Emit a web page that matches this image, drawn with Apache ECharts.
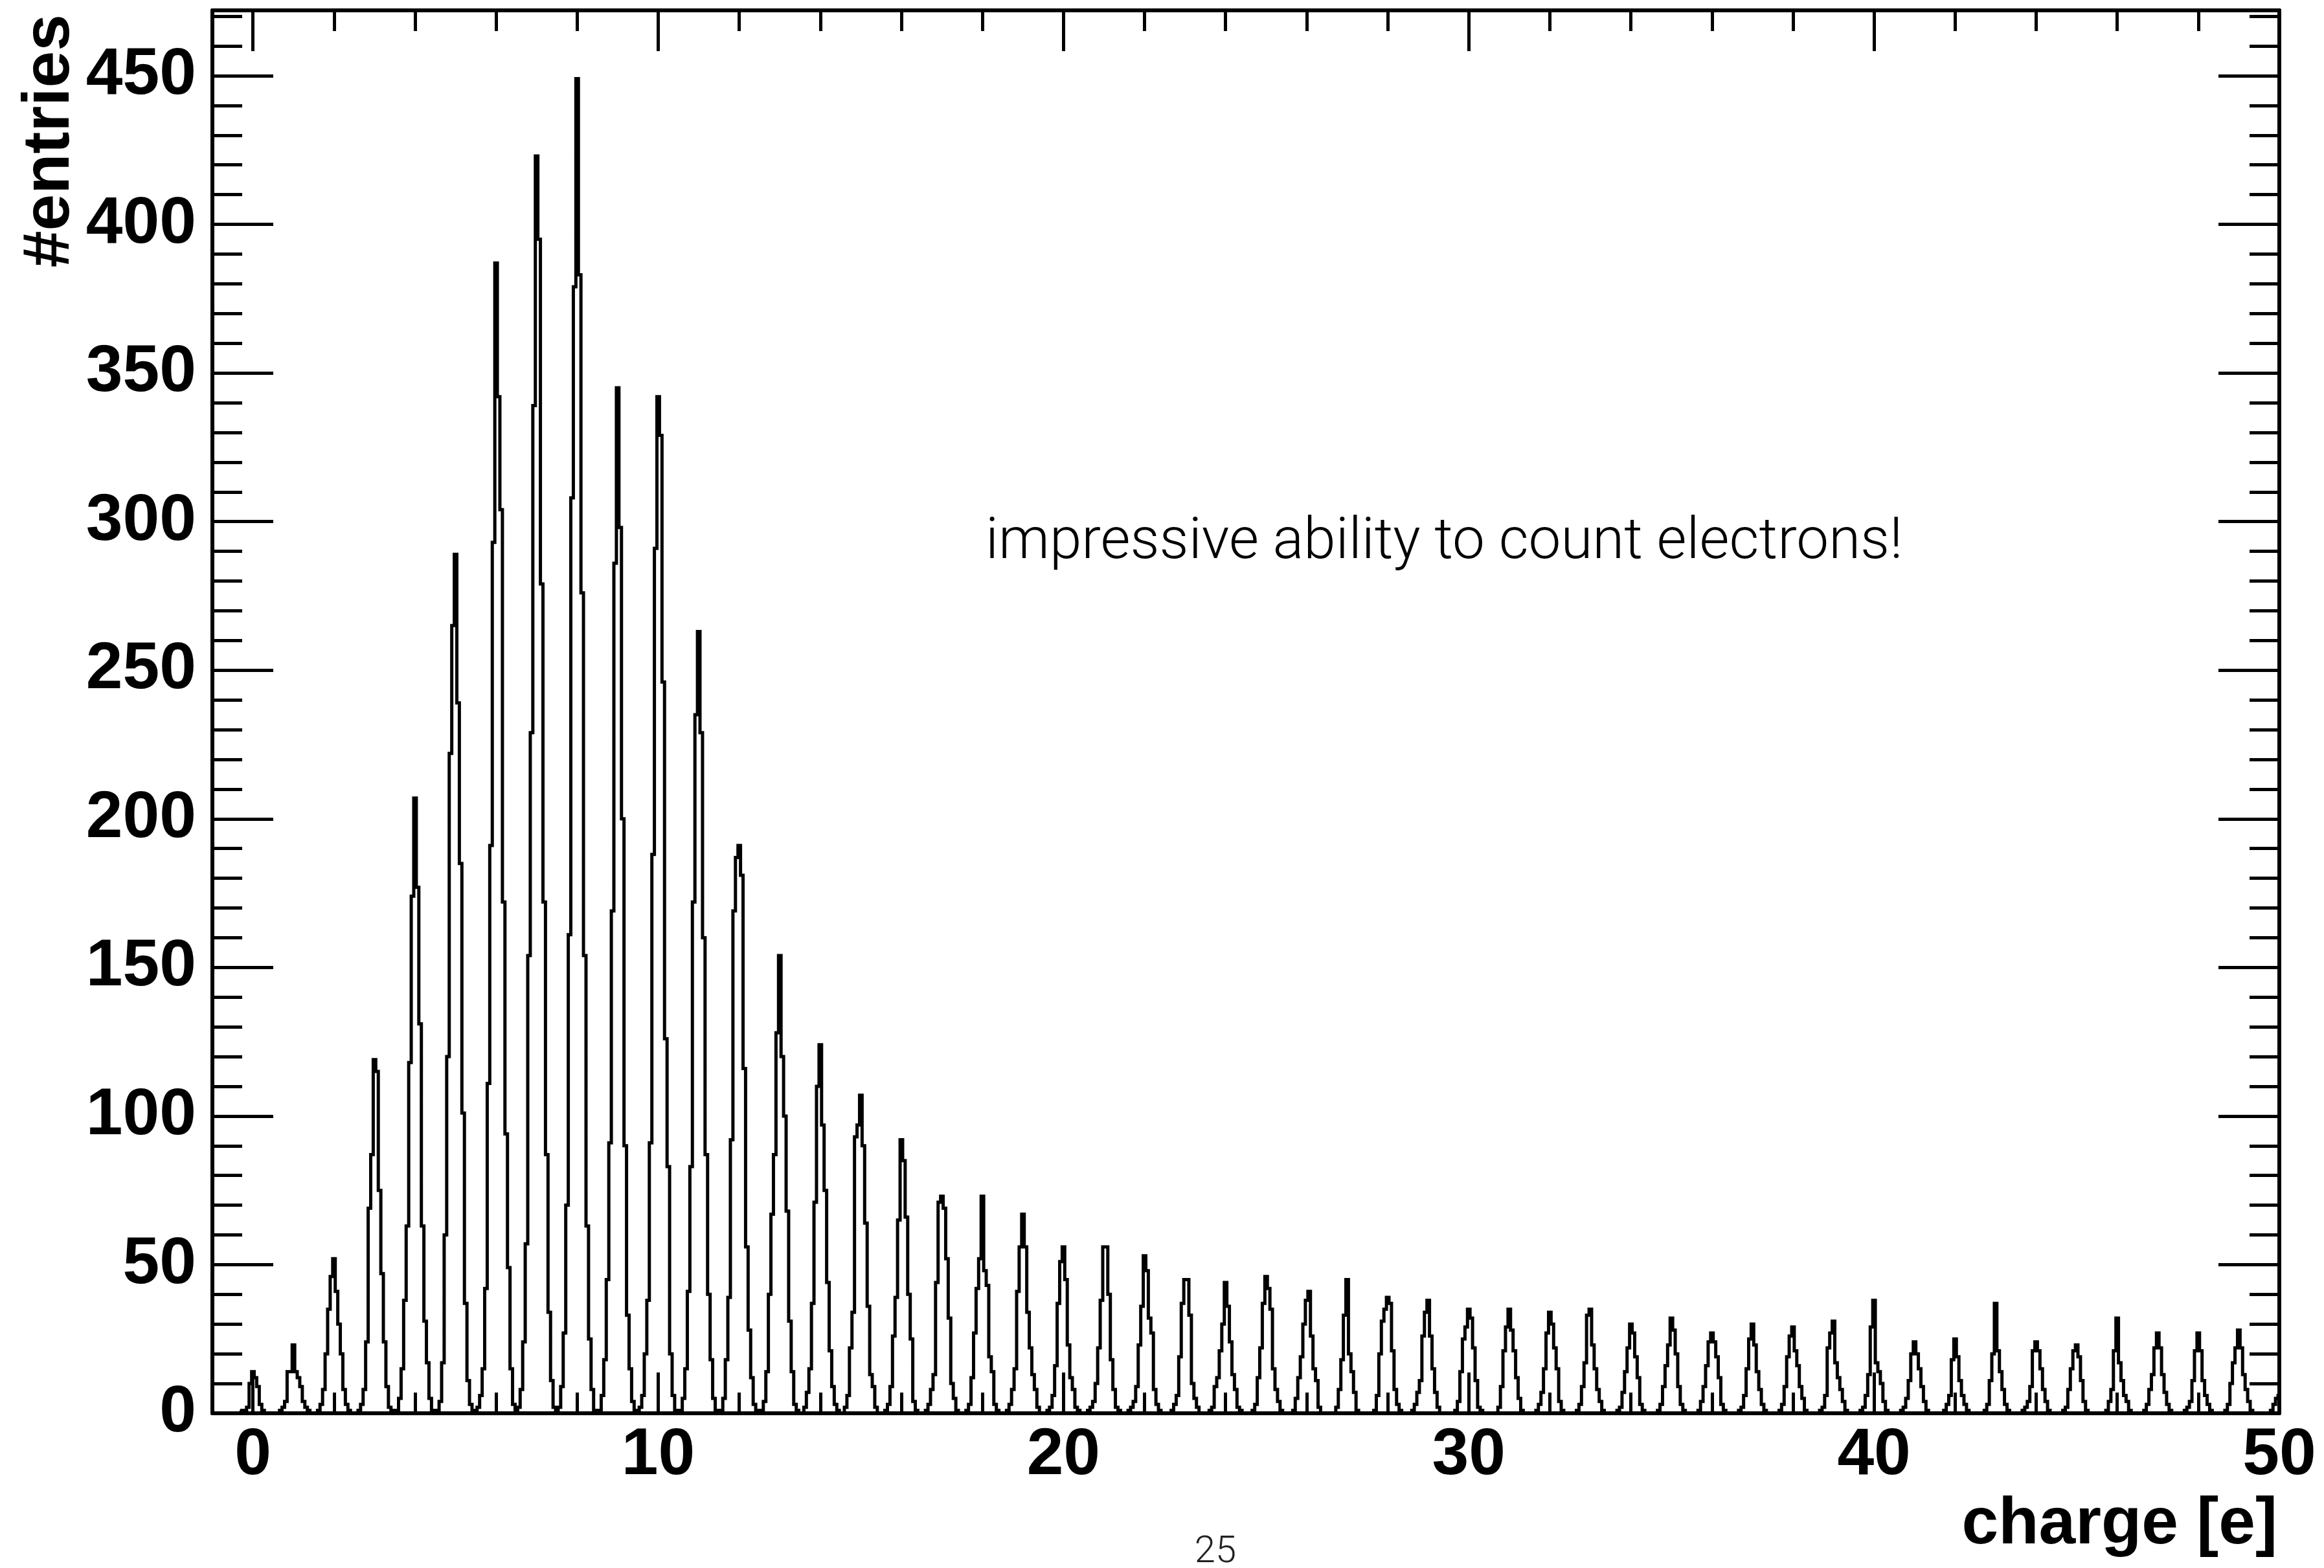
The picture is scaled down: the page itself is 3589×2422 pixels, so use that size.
<!DOCTYPE html>
<html>
<head>
<meta charset="utf-8">
<script src="https://cdn.jsdelivr.net/npm/echarts@6.0.0/dist/echarts.min.js"></script>
<style>
html, body { margin: 0; padding: 0; background: #fff; }
#chart { width: 3589px; height: 2422px; }
</style>
</head>
<body>
<div id="chart"></div>
<script>
// charge spectrum, 16 bins per electron
var binWidth = 0.0625;
var xMin = -1, xMax = 50, yMax = 472;

var xMajorTicks = [0, 10, 20, 30, 40, 50];
var xMinorTicks = [0, 2, 4, 6, 8, 10, 12, 14, 16, 18, 20, 22, 24, 26, 28, 30, 32, 34, 36, 38, 40, 42, 44, 46, 48, 50];
var yMajorTicks = [0, 50, 100, 150, 200, 250, 300, 350, 400, 450];
var yMinorTicks = [0, 10, 20, 30, 40, 50, 60, 70, 80, 90, 100, 110, 120, 130, 140, 150, 160, 170, 180, 190,
    200, 210, 220, 230, 240, 250, 260, 270, 280, 290, 300, 310, 320, 330, 340, 350, 360, 370, 380, 390,
    400, 410, 420, 430, 440, 450, 460, 470];

// one row per electron peak (charge = row index), 7 bins each side of the peak bin
var peakCounts = [
    [0, 0, 0, 1, 1, 2, 10, 14, 12, 9, 3, 1, 0, 0, 0],               // 0
    [0, 0, 1, 2, 4, 14, 14, 23, 14, 12, 9, 4, 2, 1, 0],              // 1
    [0, 1, 3, 8, 20, 35, 46, 52, 41, 30, 20, 8, 3, 1, 0],            // 2
    [0, 1, 3, 8, 24, 69, 87, 119, 115, 75, 47, 24, 9, 2, 1],         // 3
    [1, 5, 15, 38, 63, 118, 174, 207, 177, 131, 63, 31, 17, 5, 1],   // 4
    [1, 4, 17, 60, 120, 222, 265, 289, 239, 185, 101, 37, 11, 3, 1], // 5
    [2, 6, 15, 42, 111, 191, 293, 387, 342, 304, 172, 94, 49, 15, 3],// 6
    [2, 8, 24, 57, 154, 229, 339, 423, 395, 279, 172, 87, 34, 11, 2],// 7
    [2, 9, 27, 70, 161, 308, 379, 449, 383, 276, 154, 63, 25, 8, 1], // 8
    [1, 6, 18, 45, 91, 169, 286, 345, 298, 200, 90, 33, 15, 4, 1],   // 9
    [2, 6, 20, 38, 91, 188, 291, 342, 329, 246, 126, 83, 20, 6, 1],  // 10
    [1, 5, 15, 41, 83, 172, 235, 263, 229, 160, 87, 40, 18, 5, 1],   // 11
    [1, 5, 18, 39, 92, 169, 187, 191, 181, 116, 56, 28, 12, 3, 1],   // 12
    [1, 4, 14, 40, 67, 87, 128, 154, 120, 100, 68, 31, 14, 3, 1],    // 13
    [0, 2, 7, 15, 37, 71, 110, 124, 97, 75, 44, 21, 9, 3, 1],        // 14
    [0, 2, 6, 22, 34, 93, 97, 107, 90, 64, 36, 13, 9, 2, 0],         // 15
    [0, 1, 3, 9, 26, 39, 65, 92, 85, 66, 40, 25, 4, 1, 0],           // 16
    [0, 1, 3, 8, 13, 44, 71, 73, 69, 52, 32, 10, 5, 1, 0],           // 17
    [0, 1, 3, 12, 27, 42, 52, 73, 48, 43, 19, 14, 3, 1, 0],          // 18
    [0, 1, 3, 8, 15, 41, 56, 67, 56, 34, 22, 13, 8, 2, 0],           // 19
    [0, 1, 2, 6, 16, 37, 51, 56, 45, 23, 12, 8, 2, 1, 0],            // 20
    [0, 1, 2, 4, 10, 22, 38, 56, 56, 40, 18, 8, 2, 1, 0],            // 21
    [0, 1, 2, 4, 9, 23, 36, 53, 48, 32, 27, 8, 3, 1, 0],             // 22
    [0, 0, 1, 3, 6, 19, 37, 45, 45, 33, 10, 5, 2, 0, 0],             // 23
    [0, 1, 2, 9, 12, 21, 30, 44, 36, 24, 13, 8, 2, 1, 0],            // 24
    [0, 0, 1, 3, 12, 22, 37, 46, 42, 35, 15, 8, 4, 1, 0],            // 25
    [0, 0, 1, 5, 12, 19, 30, 38, 41, 26, 15, 11, 2, 0, 0],           // 26
    [0, 0, 0, 2, 8, 18, 33, 45, 20, 14, 7, 1, 0, 0, 0],              // 27
    [0, 0, 1, 6, 20, 31, 35, 39, 37, 21, 8, 3, 1, 0, 0],             // 28
    [0, 1, 3, 7, 11, 26, 34, 38, 26, 15, 7, 2, 0, 0, 0],             // 29
    [0, 0, 1, 4, 14, 25, 29, 35, 32, 22, 11, 2, 1, 0, 0],            // 30
    [0, 0, 0, 2, 9, 21, 29, 35, 28, 21, 12, 5, 1, 0, 0],             // 31
    [0, 0, 1, 3, 7, 15, 27, 34, 30, 22, 15, 4, 1, 0, 0],             // 32
    [0, 0, 1, 3, 9, 17, 33, 35, 23, 15, 8, 4, 1, 0, 0],              // 33
    [0, 0, 1, 2, 7, 14, 22, 30, 27, 19, 12, 3, 1, 0, 0],             // 34
    [0, 0, 1, 3, 9, 16, 23, 32, 28, 20, 9, 3, 1, 0, 0],              // 35
    [0, 0, 1, 4, 9, 16, 24, 27, 24, 19, 12, 3, 1, 0, 0],             // 36
    [0, 0, 1, 2, 6, 15, 25, 30, 23, 14, 8, 3, 1, 0, 0],              // 37
    [0, 0, 1, 3, 9, 19, 26, 29, 21, 16, 9, 5, 1, 0, 0],              // 38
    [0, 0, 1, 2, 6, 22, 27, 31, 17, 12, 8, 4, 1, 0, 0],              // 39
    [0, 0, 1, 2, 6, 13, 29, 38, 17, 14, 10, 4, 1, 0, 0],             // 40
    [0, 0, 1, 2, 5, 11, 20, 24, 20, 15, 9, 4, 1, 0, 0],              // 41
    [0, 0, 0, 1, 3, 6, 18, 25, 19, 11, 6, 3, 1, 0, 0],               // 42
    [0, 0, 0, 1, 3, 11, 20, 37, 21, 14, 8, 3, 1, 0, 0],              // 43
    [0, 0, 1, 2, 4, 9, 21, 24, 21, 15, 8, 4, 1, 0, 0],               // 44
    [0, 0, 1, 2, 8, 15, 21, 23, 19, 11, 4, 1, 0, 0, 0],              // 45
    [0, 0, 0, 1, 4, 8, 21, 32, 17, 11, 6, 4, 1, 0, 0],               // 46
    [0, 0, 1, 3, 8, 13, 22, 27, 22, 13, 7, 3, 1, 0, 0],              // 47
    [0, 0, 1, 2, 4, 11, 21, 27, 21, 11, 6, 3, 1, 0, 0],              // 48
    [0, 0, 1, 3, 10, 17, 22, 28, 22, 13, 8, 4, 1, 0, 0],             // 49
    [0, 0, 0, 0, 1, 3, 5, 6, 5, 3, 1, 0, 0, 0, 0]                    // 50 (cut at the edge)
];

var font = "'Liberation Sans', Arial, sans-serif";
var lightFont = "Roboto, 'Liberation Sans', sans-serif";

// fill the bins
var nBins = Math.round((xMax - xMin) / binWidth) + 1;
var counts = [];
for (var i = 0; i < nBins; i++) counts.push(0);
peakCounts.forEach(function (row, k) {
    var c = Math.round((k - xMin) / binWidth);
    row.forEach(function (v, j) {
        var b = c + j - 7;
        if (b >= 0 && b < nBins) counts[b] += v;
    });
});
var histData = counts.map(function (v, i) {
    return [xMin + i * binWidth, v];
});

function xAx(pos, ticks, len, labels, line) {
    return {
        type: 'value', position: pos, min: xMin, max: xMax,
        axisLine: { show: line, onZero: false, lineStyle: { color: '#000', width: 6 } },
        axisTick: { show: true, inside: true, length: len, customValues: ticks,
            lineStyle: { color: '#000', width: 5 } },
        axisLabel: labels ? { show: true, customValues: labels, margin: 15,
            color: '#000', fontSize: 102, fontWeight: 'bold', fontFamily: font } : { show: false },
        splitLine: { show: false }
    };
}
function yAx(pos, ticks, len, labels, line) {
    return {
        type: 'value', position: pos, min: 0, max: yMax,
        axisLine: { show: line, onZero: false, lineStyle: { color: '#000', width: 6 } },
        axisTick: { show: true, inside: true, length: len, customValues: ticks,
            lineStyle: { color: '#000', width: 5 } },
        axisLabel: labels ? { show: true, customValues: labels, margin: 25,
            color: '#000', fontSize: 102, fontWeight: 'bold', fontFamily: font } : { show: false },
        splitLine: { show: false }
    };
}

var myChart = echarts.init(document.getElementById('chart'), null, { renderer: 'canvas' });
var options = {
    animation: false,
    backgroundColor: '#fff',
    grid: { left: 328, top: 16, right: 69, bottom: 239, outerBoundsMode: 'none' },
    xAxis: [
        xAx('bottom', xMinorTicks, 32, null, true),
        xAx('bottom', xMajorTicks, 63, xMajorTicks, false),
        xAx('top', xMinorTicks, 32, null, true),
        xAx('top', xMajorTicks, 63, null, false)
    ],
    yAxis: [
        yAx('left', yMinorTicks, 46, null, true),
        yAx('left', yMajorTicks, 94, yMajorTicks, false),
        yAx('right', yMinorTicks, 46, null, true),
        yAx('right', yMajorTicks, 94, null, false)
    ],
    series: [{
        name: 'charge',
        type: 'line',
        step: 'middle',
        xAxisIndex: 0,
        yAxisIndex: 0,
        showSymbol: false,
        silent: true,
        data: histData,
        lineStyle: { color: '#000', width: 5, join: 'miter' }
    }],
    graphic: [
        { type: 'text', x: 78, y: 22, rotation: Math.PI / 2,
          style: { text: '#entries', fill: '#000', fontSize: 102, fontWeight: 'bold', fontFamily: font,
                   align: 'right', verticalAlign: 'middle' } },
        { type: 'text', x: 3517, y: 2356,
          style: { text: 'charge [e]', fill: '#000', fontSize: 102, fontWeight: 'bold', fontFamily: font,
                   align: 'right', verticalAlign: 'middle' } },
        { type: 'text', x: 1522, y: 840,
          style: { text: 'impressive ability to count electrons!', fill: '#000', fontSize: 89,
                   fontWeight: 300, fontFamily: lightFont, align: 'left', verticalAlign: 'middle' } },
        { type: 'text', x: 1877, y: 2398,
          style: { text: '25', fill: '#222', fontSize: 58, fontWeight: 300, fontFamily: lightFont,
                   align: 'center', verticalAlign: 'middle' } }
    ]
};
myChart.setOption(options);
</script>
</body>
</html>
